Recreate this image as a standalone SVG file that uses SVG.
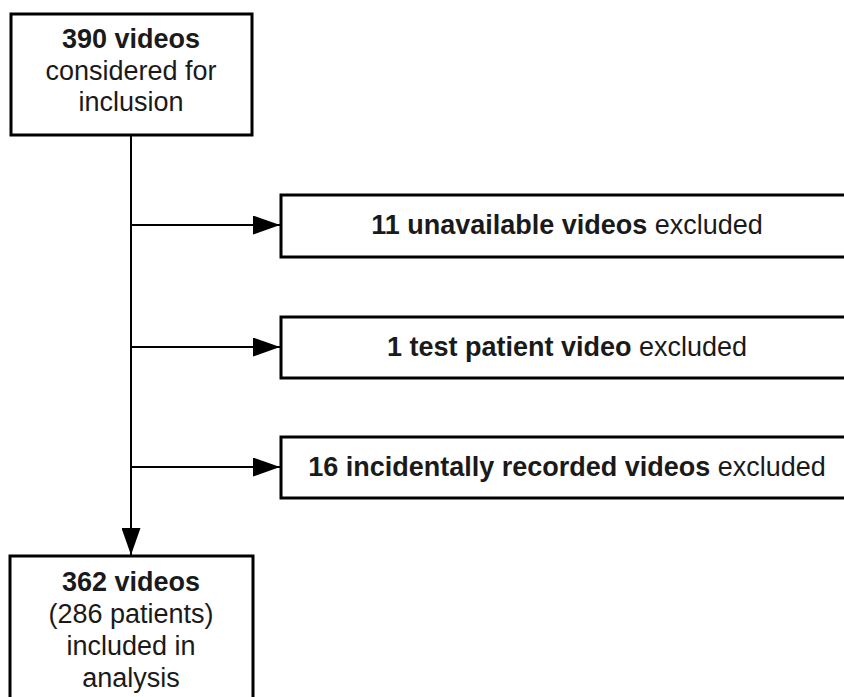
<svg xmlns="http://www.w3.org/2000/svg" width="844" height="697" viewBox="0 0 844 697">
  <defs>
    <marker id="ah" viewBox="0 0 27 19" refX="27" refY="9.5" markerWidth="27" markerHeight="19" markerUnits="userSpaceOnUse" orient="auto">
      <path d="M0,0 L27,9.5 L0,19 Z" fill="#000"/>
    </marker>
  </defs>
  <style>
    .box { fill: #fff; stroke: #000; stroke-width: 3; }
    .t { font-family: "Liberation Sans", Arial, sans-serif; font-size: 27px; fill: #1a1a1a; text-anchor: middle; }
    .b { font-weight: bold; }
    .c { fill: none; stroke: #000; stroke-width: 2; }
  </style>
  <rect width="844" height="697" fill="#fff"/>
  <g id="connectors">
    <line class="c" x1="131" y1="135" x2="131" y2="555" marker-end="url(#ah)"/>
    <line class="c" x1="131" y1="225" x2="280" y2="225" marker-end="url(#ah)"/>
    <line class="c" x1="131" y1="347" x2="280" y2="347" marker-end="url(#ah)"/>
    <line class="c" x1="131" y1="467" x2="280" y2="467" marker-end="url(#ah)"/>
  </g>
  <g id="start">
    <rect class="box" x="11" y="14" width="241" height="121"/>
    <text class="t" x="131" y="48"><tspan class="b">390 videos</tspan></text>
    <text class="t" x="131" y="80">considered for</text>
    <text class="t" x="131" y="111">inclusion</text>
  </g>
  <g id="excl1">
    <rect class="box" x="281" y="195" width="580" height="62"/>
    <text class="t" x="567" y="234"><tspan class="b">11 unavailable videos</tspan> excluded</text>
  </g>
  <g id="excl2">
    <rect class="box" x="281" y="317" width="580" height="61"/>
    <text class="t" x="567" y="356"><tspan class="b">1 test patient video</tspan> excluded</text>
  </g>
  <g id="excl3">
    <rect class="box" x="281" y="437" width="580" height="61"/>
    <text class="t" x="567" y="476"><tspan class="b">16 incidentally recorded videos</tspan> excluded</text>
  </g>
  <g id="final">
    <rect class="box" x="10" y="556" width="243" height="160"/>
    <text class="t" x="131" y="591"><tspan class="b">362 videos</tspan></text>
    <text class="t" x="131" y="623">(286 patients)</text>
    <text class="t" x="131" y="655">included in</text>
    <text class="t" x="131" y="687">analysis</text>
  </g>
</svg>
